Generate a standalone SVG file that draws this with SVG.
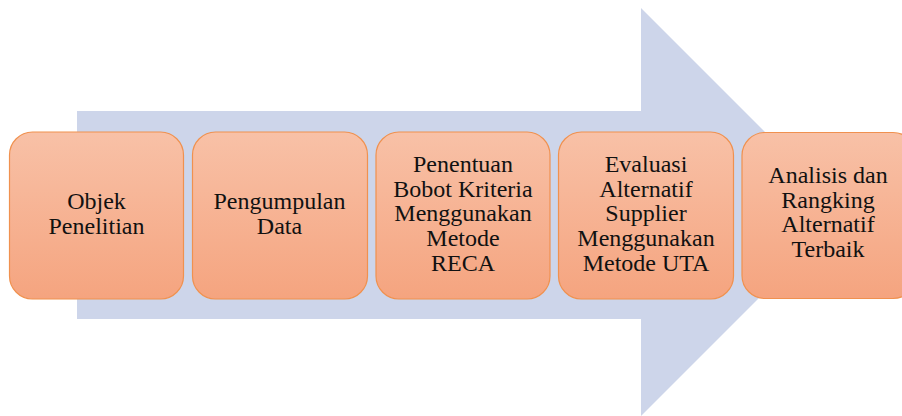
<svg xmlns="http://www.w3.org/2000/svg" width="902" height="416" viewBox="0 0 902 416">
<defs>
<linearGradient id="g" x1="0" y1="0" x2="0" y2="1">
<stop offset="0" stop-color="#F8C1A7"/>
<stop offset="1" stop-color="#F5A47F"/>
</linearGradient>
<style>
.box{fill:url(#g);stroke:#F0914F;stroke-width:1.2}
.t{font-size:24px;fill:#111;text-anchor:middle}
</style>
</defs>
<rect width="902" height="416" fill="#fff"/>
<g id="arrow">
<polygon points="77,111 641,111 641,8 845,212 641,416 641,319 77,319" fill="#CDD5EA"/>
</g>
<g id="connectors"></g>
<g font-family="Liberation Serif, Tinos, DejaVu Serif, serif">
<g id="n1">
<rect class="box" x="9.5" y="132" width="174" height="167" rx="23"/>
<text class="t" x="96.5" y="209">Objek</text>
<text class="t" x="96.5" y="234">Penelitian</text>
</g>
<g id="n2">
<rect class="box" x="192.5" y="132" width="175" height="167" rx="23"/>
<text class="t" x="279.5" y="209">Pengumpulan</text>
<text class="t" x="279.5" y="234">Data</text>
</g>
<g id="n3">
<rect class="box" x="376" y="132" width="174" height="167" rx="23"/>
<text class="t" x="463" y="172">Penentuan</text>
<text class="t" x="463" y="196.7">Bobot Kriteria</text>
<text class="t" x="463" y="221.4">Menggunakan</text>
<text class="t" x="463" y="246.1">Metode</text>
<text class="t" x="463" y="270.8">RECA</text>
</g>
<g id="n4">
<rect class="box" x="558.5" y="132" width="175" height="167" rx="23"/>
<text class="t" x="646" y="172">Evaluasi</text>
<text class="t" x="646" y="196.7">Alternatif</text>
<text class="t" x="646" y="221.4">Supplier</text>
<text class="t" x="646" y="246.1">Menggunakan</text>
<text class="t" x="646" y="270.8">Metode UTA</text>
</g>
<g id="n5">
<rect class="box" x="742" y="132.5" width="174" height="166" rx="23"/>
<text class="t" x="828" y="183">Analisis dan</text>
<text class="t" x="828" y="207.5">Rangking</text>
<text class="t" x="828" y="232">Alternatif</text>
<text class="t" x="828" y="256.5">Terbaik</text>
</g>
</g>
</svg>
